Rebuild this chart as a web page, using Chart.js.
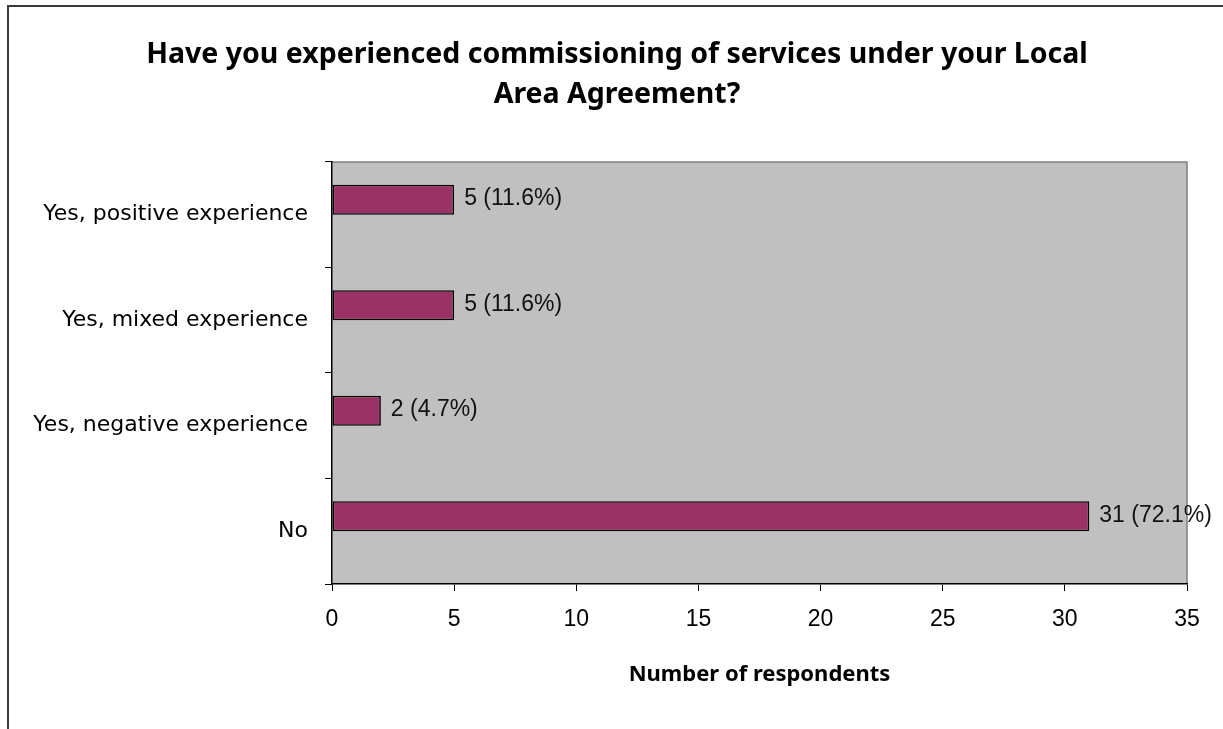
<!DOCTYPE html>
<html>
<head>
<meta charset="utf-8">
<script src="https://cdn.jsdelivr.net/npm/chart.js@4/dist/chart.umd.min.js"></script>
<style>
    html, body { margin: 0; padding: 0; background: #fff; overflow: hidden; }
    #wrap { position: relative; width: 1223px; height: 729px; }
    #frame {
        position: absolute; left: 7px; top: 5px; width: 1300px; height: 800px;
        border-left: 2px solid #3a3a3a; border-top: 2px solid #3a3a3a;
        pointer-events: none;
    }
    canvas { position: absolute; left: 0; top: 0; }
</style>
</head>
<body>
<div id="wrap">
    <canvas id="commissioningChart" width="1223" height="729"></canvas>
    <div id="frame"></div>
</div>
<script>
const categories = ['Yes, positive experience', 'Yes, mixed experience', 'Yes, negative experience', 'No'];
const respondents = [5, 5, 2, 31];
const percentages = [11.6, 11.6, 4.7, 72.1];
const xTicks = { min: 0, max: 35, step: 5 };
const chartTitle = ['Have you experienced commissioning of services under your Local', 'Area Agreement?'];
const xTitle = 'Number of respondents';

document.addEventListener('DOMContentLoaded', function() {
    // grey plot area with a darker edge on top and right
    const plotBackground = {
        id: 'plotBackground',
        beforeDraw(chart) {
            const { ctx, chartArea: a } = chart;
            ctx.save();
            ctx.fillStyle = '#c0c0c0';
            ctx.fillRect(a.left, a.top, a.right - a.left, a.bottom - a.top);
            ctx.strokeStyle = '#808080';
            ctx.lineWidth = 1.5;
            ctx.beginPath();
            ctx.moveTo(a.left, a.top);
            ctx.lineTo(a.right, a.top);
            ctx.lineTo(a.right, a.bottom);
            ctx.stroke();
            ctx.restore();
        }
    };

    // "5 (11.6%)" labels at the end of each bar
    const barLabels = {
        id: 'barLabels',
        afterDatasetsDraw(chart) {
            const { ctx } = chart;
            const meta = chart.getDatasetMeta(0);
            ctx.save();
            ctx.font = '23px "Liberation Sans", Arial, sans-serif';
            ctx.fillStyle = '#111';
            ctx.textAlign = 'left';
            ctx.textBaseline = 'middle';
            meta.data.forEach((bar, i) => {
                ctx.fillText(respondents[i] + ' (' + percentages[i].toFixed(1) + '%)', bar.x + 10, bar.y - 1);
            });
            ctx.restore();
        }
    };

    new Chart(document.getElementById('commissioningChart').getContext('2d'), {
        type: 'bar',
        data: {
            labels: categories,
            datasets: [{
                label: 'Respondents',
                data: respondents,
                backgroundColor: '#993366',
                borderColor: '#000',
                borderWidth: 1.6,
                borderSkipped: false,
                categoryPercentage: 0.571,
                barPercentage: 1
            }, {
                // empty second series, keeps the bars in the upper half of each band
                label: '',
                data: categories.map(() => null),
                categoryPercentage: 0.571,
                barPercentage: 1
            }]
        },
        options: {
            indexAxis: 'y',
            responsive: false,
            animation: false,
            layout: { padding: { left: 11, right: 0, top: 0, bottom: 41 } },
            plugins: {
                legend: { display: false },
                tooltip: { enabled: false },
                title: {
                    display: true,
                    text: chartTitle,
                    color: '#000',
                    font: { family: '"Noto Sans", sans-serif', size: 28.5, weight: 'bold', lineHeight: 1.4035 },
                    padding: { top: 35, bottom: 47 }
                }
            },
            scales: {
                x: {
                    min: xTicks.min,
                    max: xTicks.max,
                    afterFit(scale) { scale.height = 104; },
                    ticks: {
                        stepSize: xTicks.step,
                        color: '#000',
                        padding: 15,
                        font: { family: '"Liberation Sans", Arial, sans-serif', size: 23 }
                    },
                    grid: { drawOnChartArea: false, drawTicks: true, tickLength: 7, color: '#000', lineWidth: 1 },
                    border: { display: true, color: '#000', width: 1.5 },
                    title: {
                        display: true,
                        text: xTitle,
                        color: '#000',
                        padding: { top: 0, bottom: 0 },
                        font: { family: '"Noto Sans", sans-serif', size: 22, weight: 'bold', lineHeight: 1.2 }
                    }
                },
                y: {
                    afterFit(scale) { scale.width = 321; },
                    ticks: {
                        color: '#000',
                        padding: 17,
                        font: { family: '"DejaVu Sans", sans-serif', size: 22 }
                    },
                    grid: { drawOnChartArea: false, drawTicks: true, tickLength: 7, color: '#000', lineWidth: 1, offset: true },
                    border: { display: true, color: '#000', width: 1.5 }
                },
                // blank margin on the right, room for the last bar label
                yRight: {
                    type: 'category',
                    position: 'right',
                    afterFit(scale) { scale.width = 36; },
                    ticks: { display: false },
                    grid: { display: false },
                    border: { display: false }
                }
            }
        },
        plugins: [plotBackground, barLabels]
    });
});
</script>
</body>
</html>
